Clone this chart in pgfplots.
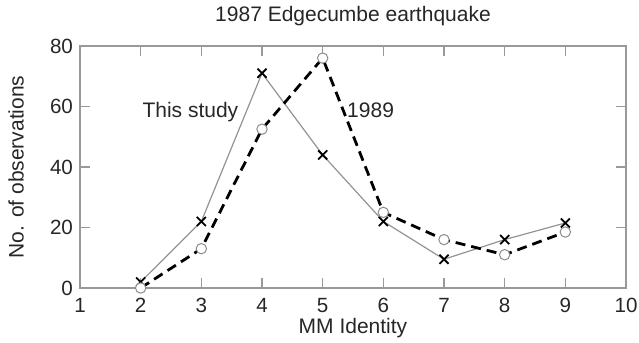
\documentclass[border=0pt]{standalone}
\usepackage{pgfplots}
\pgfplotsset{compat=1.18}
\usepackage{fontspec}
\setmainfont{Liberation Sans}
\begin{document}
\begin{tikzpicture}
\begin{axis}[
  scale only axis,
  width=273pt, height=121pt,
  xmin=1, xmax=10, ymin=0, ymax=80,
  xtick={1,...,10}, ytick={0,20,40,60,80},
  tick align=inside,
  major tick length=5pt,
  axis line style={gray!80, line width=0.8pt},
  every tick/.style={gray!80, line width=0.6pt},
  tick label style={font=\fontsize{10.3}{12}\selectfont, text=black!85},
  xticklabel style={yshift=-1.5pt},
  /pgf/number format/assume math mode=true,
  title={1987 Edgecumbe earthquake},
  title style={font=\fontsize{10.5}{12}\selectfont, text=black!85, at={(0.5,1)}, anchor=south, yshift=0.5pt},
  xlabel={MM Identity},
  xlabel style={font=\fontsize{10.5}{12}\selectfont, text=black!85, at={(axis description cs:0.5,-0.165)}, anchor=center},
  ylabel={No. of observations},
  ylabel style={font=\fontsize{10.5}{12}\selectfont, text=black!85, at={(axis description cs:-0.117,0.5)}, anchor=center},
  clip=false,
]
\addplot[gray!85, line width=0.6pt, mark=x, mark size=3.2pt,
  mark options={black, solid, line width=0.9pt}]
  coordinates {(2,2) (3,22) (4,71) (5,44) (6,22) (7,9.5) (8,16) (9,21.5)};
\addplot[black, line width=1.4pt, dash pattern=on 5pt off 3pt, mark=*, mark size=2.6pt,
  mark options={draw=gray!90, fill=white, solid, line width=0.5pt}]
  coordinates {(2,0) (3,13) (4,52.5) (5,76) (6,25) (7,16) (8,11) (9,18.5)};
\node[font=\fontsize{10.5}{12}\selectfont, text=black!85] at (axis cs:2.82,58) {This study};
\node[font=\fontsize{10.5}{12}\selectfont, text=black!85] at (axis cs:5.79,58.7) {1989};
\end{axis}
\pgfresetboundingbox
\path ([shift={(-40pt,-27pt)}]current axis.south west) rectangle ([shift={(6.5pt,23pt)}]current axis.north east);
\end{tikzpicture}
\end{document}
